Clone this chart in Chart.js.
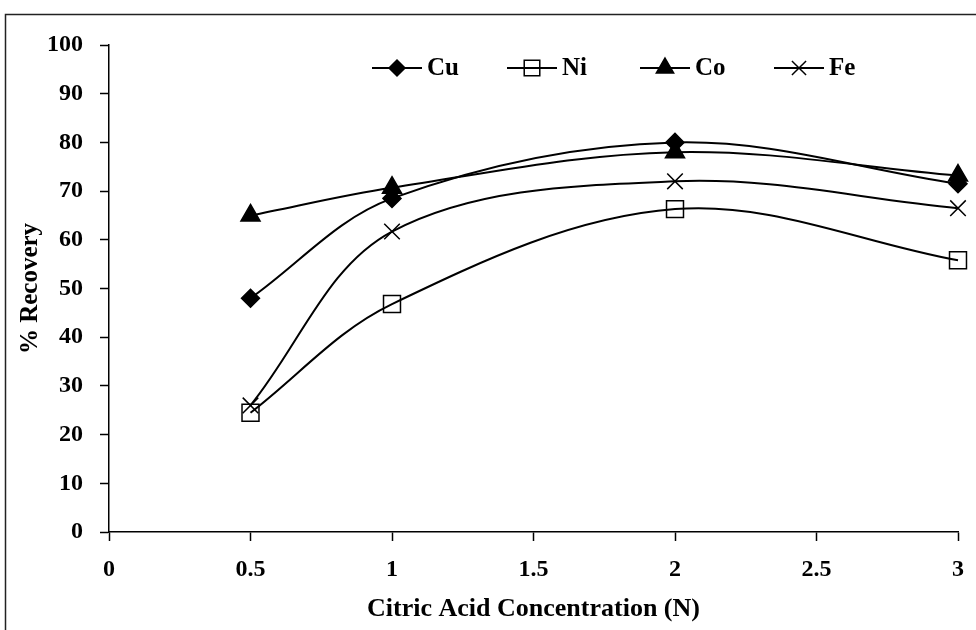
<!DOCTYPE html>
<html lang="en">
<head>
    <meta charset="UTF-8">
    <title>Recovery vs Citric Acid Concentration</title>
    <style>
        body {
            margin: 0;
            padding: 0;
            background-color: #fff;
        }
        #chart-box {
            width: 976px;
            height: 630px;
        }
    </style>
</head>
<body>
    <div id="chart-box">
        <canvas id="recovery-chart"></canvas>
    </div>

    <script src="https://cdn.jsdelivr.net/npm/chart.js"></script>
    <script>
        // datos
        const concentration = [0.5, 1, 2, 3];
        const cu = [48, 68.5, 80, 71.5];
        const ni = [24.5, 46.8, 66.3, 55.8];
        const co = [65, 70.7, 78, 73.2];
        const fe = [26, 61.7, 72, 66.5];
        const seriesNames = ['Cu', 'Ni', 'Co', 'Fe'];

        const FONT = "'Liberation Serif', 'Times New Roman', serif";

        function toPoints(values) {
            return concentration.map(function(x, i) {
                return { x: x, y: values[i] };
            });
        }

        function makeSet(label, values, style, radius, fill) {
            return {
                label: label,
                data: toPoints(values),
                showLine: true,
                tension: 0.35,
                borderColor: '#000',
                borderWidth: 2,
                pointStyle: style,
                pointRadius: radius,
                pointHoverRadius: radius,
                pointBackgroundColor: fill,
                pointBorderColor: '#000',
                pointBorderWidth: 1.5,
                clip: false
            };
        }

        // marco exterior
        const framePlugin = {
            id: 'frame',
            afterDraw: function(chart) {
                const ctx = chart.ctx;
                ctx.save();
                ctx.strokeStyle = '#222';
                ctx.lineWidth = 1.5;
                ctx.strokeRect(5.5, 14.5, 1000, 700);
                ctx.restore();
            }
        };

        // leyenda con linea + marcador
        const legendPlugin = {
            id: 'lineLegend',
            afterDraw: function(chart) {
                const ctx = chart.ctx;
                const startX = [372, 507, 640, 774];
                const y = 68;
                ctx.save();
                chart.data.datasets.forEach(function(ds, i) {
                    const x0 = startX[i];
                    ctx.strokeStyle = '#000';
                    ctx.lineWidth = 2;
                    ctx.beginPath();
                    ctx.moveTo(x0, y);
                    ctx.lineTo(x0 + 50, y);
                    ctx.stroke();
                    ctx.fillStyle = ds.pointBackgroundColor;
                    ctx.lineWidth = 1.5;
                    Chart.helpers.drawPoint(ctx, {
                        pointStyle: ds.pointStyle,
                        radius: ds.pointRadius - 1,
                        rotation: 0,
                        borderWidth: 1.5
                    }, x0 + 25, y);
                    ctx.fillStyle = '#000';
                    ctx.font = 'bold 25px ' + FONT;
                    ctx.textBaseline = 'middle';
                    ctx.fillText(ds.label, x0 + 55, y + 1);
                });
                ctx.restore();
            }
        };

        const ctx = document.getElementById('recovery-chart').getContext('2d');
        new Chart(ctx, {
            type: 'scatter',
            data: {
                datasets: [
                    makeSet(seriesNames[0], cu, 'rectRot', 9, '#000'),
                    makeSet(seriesNames[1], ni, 'rect', 12, 'rgba(0,0,0,0)'),
                    makeSet(seriesNames[2], co, 'triangle', 11, '#000'),
                    makeSet(seriesNames[3], fe, 'crossRot', 11, '#000')
                ]
            },
            options: {
                responsive: true,
                maintainAspectRatio: false,
                animation: false,
                layout: {
                    padding: { top: 45, right: 18, left: 0, bottom: 0 }
                },
                plugins: {
                    legend: { display: false },
                    tooltip: { enabled: false }
                },
                scales: {
                    x: {
                        type: 'linear',
                        min: 0,
                        max: 3,
                        afterFit: function(scale) {
                            scale.height = 98;
                            scale.paddingRight = 0;
                        },
                        ticks: {
                            stepSize: 0.5,
                            color: '#000',
                            padding: 14,
                            callback: function(value) { return String(value); },
                            font: { family: FONT, size: 24, weight: 'bold' }
                        },
                        grid: {
                            drawOnChartArea: false,
                            drawTicks: true,
                            tickLength: 9,
                            tickColor: '#000',
                            tickWidth: 1.5
                        },
                        border: { display: true, color: '#000', width: 1.5 },
                        title: {
                            display: true,
                            text: 'Citric Acid Concentration (N)',
                            color: '#000',
                            padding: { top: 0, bottom: 5 },
                            font: { family: FONT, size: 26, weight: 'bold' }
                        }
                    },
                    y: {
                        min: 0,
                        max: 100,
                        afterFit: function(scale) { scale.width = 109; },
                        ticks: {
                            stepSize: 10,
                            color: '#000',
                            padding: 17,
                            font: { family: FONT, size: 24, weight: 'bold' }
                        },
                        grid: {
                            drawOnChartArea: false,
                            drawTicks: true,
                            tickLength: 9,
                            tickColor: '#000',
                            tickWidth: 1.5
                        },
                        border: { display: true, color: '#000', width: 1.5 },
                        title: {
                            display: true,
                            text: '% Recovery',
                            color: '#000',
                            padding: { top: 16, bottom: 0 },
                            font: { family: FONT, size: 25, weight: 'bold' }
                        }
                    }
                }
            },
            plugins: [framePlugin, legendPlugin]
        });
    </script>
</body>
</html>
